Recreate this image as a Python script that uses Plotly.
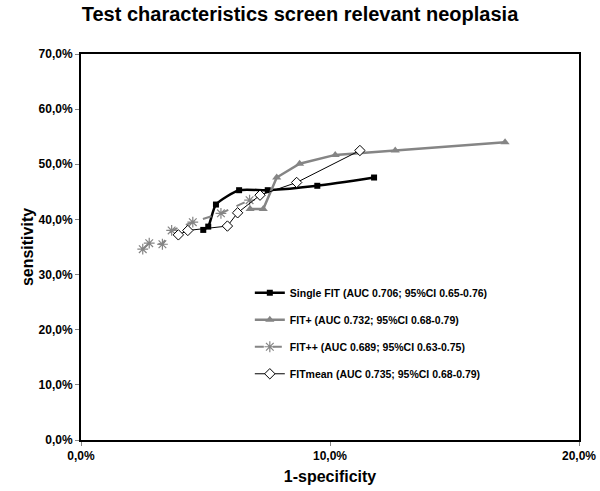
import plotly.graph_objects as go

# 1-specificity (%) and sensitivity (%)
single_x = [4.91, 5.11, 5.42, 6.35, 7.50, 9.49, 11.77]
single_y = [38.1, 38.7, 42.7, 45.3, 45.3, 46.1, 47.6]

fitplus_x = [6.79, 7.32, 7.86, 8.78, 10.21, 12.62, 17.03]
fitplus_y = [41.9, 41.9, 47.6, 50.1, 51.7, 52.5, 54.0]

fitpp_x = [2.48, 2.74, 3.27, 3.64, 4.49, 5.62, 6.77]
fitpp_y = [34.6, 35.7, 35.5, 38.0, 39.5, 41.1, 43.5]

fitmean_x = [3.91, 4.29, 5.88, 6.29, 7.19, 8.66, 11.20]
fitmean_y = [37.2, 38.0, 38.8, 41.2, 44.4, 46.7, 52.5]

names = [
    "Single FIT (AUC 0.706; 95%CI 0.65-0.76)",
    "FIT+ (AUC 0.732; 95%CI 0.68-0.79)",
    "FIT++ (AUC 0.689; 95%CI 0.63-0.75)",
    "FITmean (AUC 0.735; 95%CI 0.68-0.79)",
]

x_ticks = [0, 10, 20]
y_ticks = [0, 10, 20, 30, 40, 50, 60, 70]
x_ticktext = ["0,0%", "10,0%", "20,0%"]
y_ticktext = ["0,0%", "10,0%", "20,0%", "30,0%", "40,0%", "50,0%", "60,0%", "70,0%"]

FONT = "Liberation Sans, Arial, sans-serif"
GRAY = "#858585"

fig = go.Figure()
fig.add_trace(go.Scatter(
    x=single_x, y=single_y, name="<b>" + names[0] + "</b>", mode="lines+markers", legendgroup="a",
    line=dict(color="black", width=2.5, shape="spline", smoothing=0.6),
    marker=dict(symbol="square", size=6, color="black"),
))
fig.add_trace(go.Scatter(
    x=fitplus_x, y=fitplus_y, name="<b>" + names[1] + "</b>", mode="lines+markers", legendgroup="b",
    line=dict(color=GRAY, width=2.5),
    marker=dict(symbol="triangle-up", size=8, color=GRAY),
))
fig.add_trace(go.Scatter(
    x=fitpp_x, y=fitpp_y, name="<b>" + names[2] + "</b>", mode="lines+markers", legendgroup="c",
    line=dict(color=GRAY, width=2, dash="dash"),
    marker=dict(symbol="asterisk-open", size=9, color=GRAY, line=dict(color=GRAY, width=1.2)),
))
fig.add_trace(go.Scatter(
    x=fitmean_x, y=fitmean_y, name="<b>" + names[3] + "</b>", mode="lines+markers", legendgroup="d",
    line=dict(color="black", width=1),
    marker=dict(symbol="diamond", size=8, color="white", line=dict(color="black", width=1)),
))

fig.update_layout(
    width=600, height=491,
    margin=dict(l=81, r=21, t=54, b=51),
    paper_bgcolor="white", plot_bgcolor="white",
    font=dict(family=FONT, color="black"),
    title=dict(text="<b>Test characteristics screen relevant neoplasia</b>",
               x=0.5, xanchor="center", y=0.972, yanchor="middle",
               font=dict(size=20, family=FONT, color="black")),
    showlegend=True,
    legend=dict(x=0.339, y=0.419, xanchor="left", yanchor="top",
                bgcolor="rgba(0,0,0,0)", tracegroupgap=8,
                font=dict(size=10.5, family=FONT, color="black"),
                itemwidth=30),
    xaxis=dict(range=[0, 20], tickvals=x_ticks, ticktext=["<b>%s</b>" % t for t in x_ticktext],
               showgrid=False, zeroline=False, automargin=False,
               showline=True, linecolor="black", linewidth=2, mirror=True,
               ticks="outside", ticklen=4, tickcolor=GRAY,
               tickfont=dict(size=12, family=FONT, color="black"),
               title=dict(text="<b>1-specificity</b>", font=dict(size=16, family=FONT), standoff=8)),
    yaxis=dict(range=[0, 70], tickvals=y_ticks, ticktext=["<b>%s</b>" % t for t in y_ticktext],
               showgrid=False, zeroline=False, automargin=False,
               showline=True, linecolor="black", linewidth=2, mirror=True,
               ticks="outside", ticklen=4, tickcolor=GRAY,
               tickfont=dict(size=12, family=FONT, color="black"),
               title=dict(text="<b>sensitivity</b>", font=dict(size=16, family=FONT), standoff=1)),
)

fig.write_html("out.html", config={"displayModeBar": False},
               post_script="document.body.style.margin='0';")
